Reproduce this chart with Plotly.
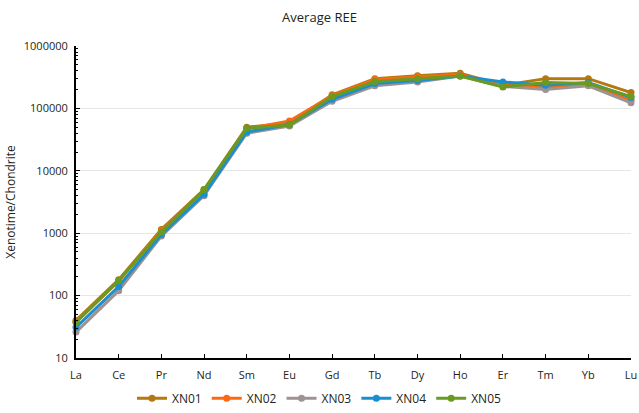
import plotly.graph_objects as go

elements = ["La", "Ce", "Pr", "Nd", "Sm", "Eu", "Gd", "Tb", "Dy", "Ho", "Er", "Tm", "Yb", "Lu"]

xn01 = [40, 180, 1150, 5000, 50000, 58000, 165000, 300000, 335000, 365000, 235000, 300000, 300000, 180000]
xn02 = [38, 170, 1100, 4800, 47000, 63000, 160000, 290000, 320000, 350000, 230000, 220000, 240000, 135000]
xn03 = [26, 120, 900, 4000, 40000, 52000, 130000, 230000, 265000, 330000, 225000, 200000, 230000, 123000]
xn04 = [31, 140, 950, 4200, 42000, 55000, 140000, 250000, 280000, 330000, 265000, 235000, 260000, 150000]
xn05 = [37, 175, 1050, 5000, 48000, 54000, 155000, 270000, 300000, 330000, 220000, 260000, 250000, 155000]

series = [
    ("XN01", xn01, "#b5780f"),
    ("XN02", xn02, "#fb6a12"),
    ("XN03", xn03, "#a09292"),
    ("XN04", xn04, "#1a8fcf"),
    ("XN05", xn05, "#6a9a22"),
]

y_ticks = [10, 100, 1000, 10000, 100000, 1000000]

fig = go.Figure()
for name, vals, color in series:
    fig.add_trace(go.Scatter(
        x=elements, y=vals, name=name, mode="lines+markers",
        line=dict(color=color, width=3),
        marker=dict(color=color, size=7),
        cliponaxis=False,
    ))

font_family = "Open Sans, Noto Sans, sans-serif"
fig.update_layout(
    width=639, height=413,
    margin=dict(l=76, r=8, t=46, b=55, autoexpand=False),
    paper_bgcolor="white", plot_bgcolor="white",
    font=dict(family=font_family, size=11, color="#231f20"),
    title=dict(text="Average REE", x=0.5, xanchor="center", y=0.958, yanchor="middle",
               font=dict(size=13, color="#231f20")),
    showlegend=True,
    legend=dict(orientation="h", xref="container", x=0.5, xanchor="center",
                yref="container", y=0.036, yanchor="middle",
                font=dict(size=12), itemwidth=30, tracegroupgap=0),
)
fig.update_xaxes(
    type="category", range=[0, 13], automargin=False,
    showline=True, linecolor="#000000", linewidth=2,
    ticks="inside", ticklen=4, tickcolor="#000000",
    showgrid=False, zeroline=False,
    tickfont=dict(size=11), ticklabelstandoff=6,
)
fig.update_yaxes(
    type="log", range=[1, 6], automargin=False,
    tickvals=y_ticks, ticktext=[str(v) for v in y_ticks],
    showline=True, linecolor="#000000", linewidth=2,
    ticks="inside", ticklen=4, tickcolor="#000000",
    minor=dict(ticks="inside", ticklen=2, tickcolor="#000000", dtick="D1", showgrid=False),
    showgrid=True, gridcolor="#e6e6e6", gridwidth=1,
    zeroline=False,
    tickfont=dict(size=11), ticklabelstandoff=4,
    title=dict(text="Xenotime/Chondrite", font=dict(size=12), standoff=6),
)

fig.write_html("out.html")
